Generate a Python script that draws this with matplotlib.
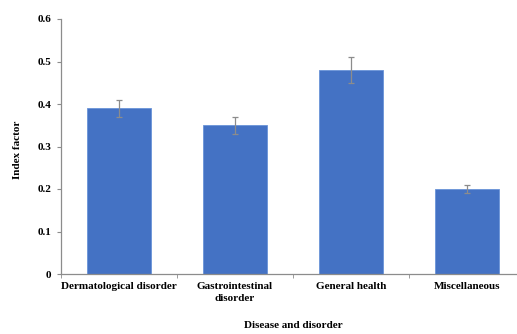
import matplotlib
matplotlib.use("Agg")
import matplotlib.pyplot as plt
import numpy as np

categories = ["Dermatological disorder", "Gastrointestinal\ndisorder", "General health", "Miscellaneous"]
values = [0.39, 0.35, 0.48, 0.20]
errors = [0.02, 0.02, 0.03, 0.01]
yticks = [0, 0.1, 0.2, 0.3, 0.4, 0.5, 0.6]
ytick_labels = ["0", "0.1", "0.2", "0.3", "0.4", "0.5", "0.6"]

plt.rcParams['font.family'] = ['Liberation Serif', 'DejaVu Serif']
plt.rcParams['font.weight'] = 'bold'

fig = plt.figure(figsize=(5.17, 3.34), dpi=100)
ax = fig.add_axes([61/517, 60/334, 464/517, 255/334])
x = np.arange(len(categories))
ax.bar(x, values, width=0.56, color='#4472C4', edgecolor='#6a93d8', linewidth=0.6,
       yerr=errors, error_kw=dict(ecolor='#8c8c8c', elinewidth=0.9, capsize=2, capthick=0.9))
ax.set_xlim(-0.5, 3.5)
ax.set_ylim(0, 0.6)
ax.set_yticks(yticks)
ax.set_yticklabels(ytick_labels, fontsize=8, fontweight='bold')
ax.set_xticks(x)
ax.set_xticklabels(categories, fontsize=8, fontweight='bold', linespacing=1.4)
ax.tick_params(axis='x', which='major', length=0, pad=6)
ax.set_xticks(np.arange(-0.5, 4.0, 1.0), minor=True)
ax.tick_params(axis='x', which='minor', length=3, color='#8c8c8c', direction='out')
ax.tick_params(axis='y', length=3, color='#8c8c8c', direction='out', pad=4)
for s in ['top', 'right']:
    ax.spines[s].set_visible(False)
for s in ['left', 'bottom']:
    ax.spines[s].set_color('#8c8c8c')
    ax.spines[s].set_linewidth(0.9)
fig.text(18/517, 1 - 150/334, "Index factor", rotation=90, ha='center', va='center',
         fontsize=8, fontweight='bold')
fig.text(0.5*(61+525)/517, 1 - 325/334, "Disease and disorder", ha='center', va='center',
         fontsize=8, fontweight='bold')
fig.savefig("out.png", dpi=100)
